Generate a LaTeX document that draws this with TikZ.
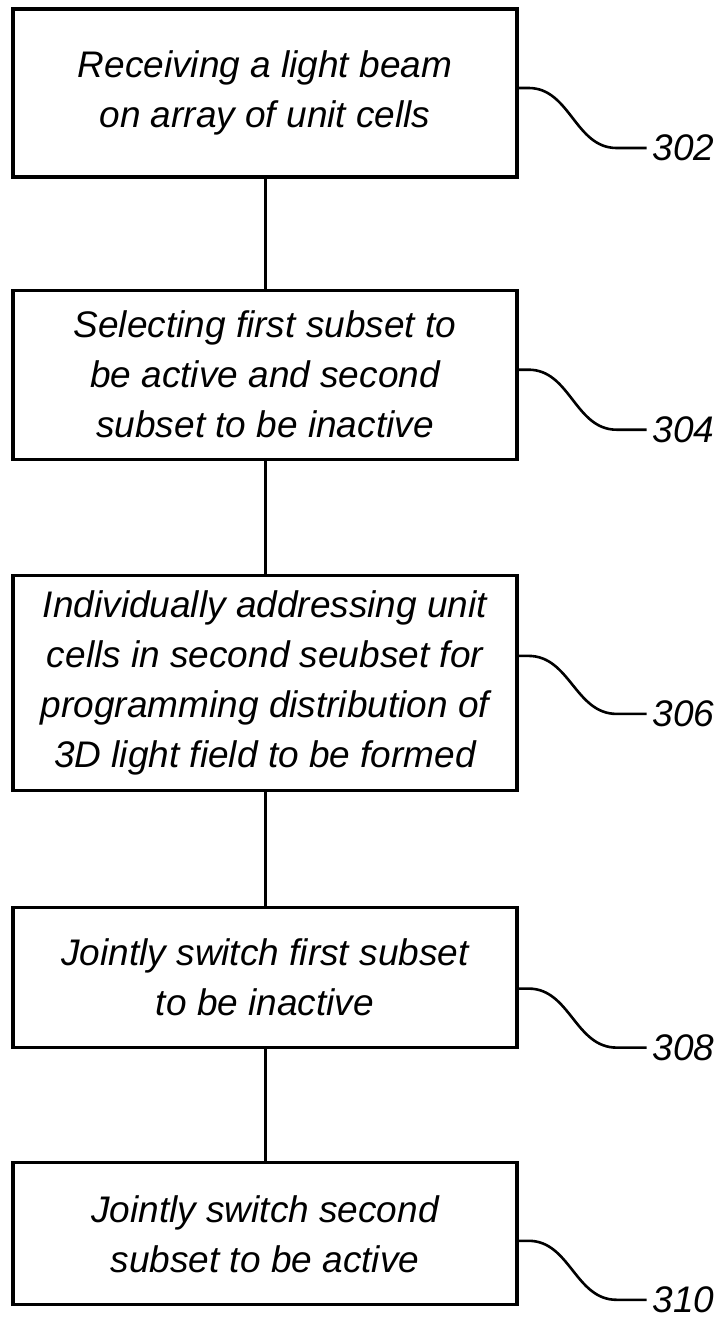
\documentclass[tikz,border=0pt]{standalone}
\usepackage{fontspec}
\setmainfont{Liberation Sans}
\usetikzlibrary{positioning}

\tikzset{
    stepbox/.style={draw, rectangle, line width=3.2pt, align=center, minimum width=504pt, inner sep=0pt, font=\fontsize{37}{50}\selectfont\itshape},
    reflabel/.style={anchor=west, inner xsep=6pt, inner ysep=0pt, font=\fontsize{37}{44}\selectfont\itshape},
    squiggle/.style={line width=2.6pt},
    flow/.style={line width=3pt},
}

\begin{document}
\begin{tikzpicture}[x=1pt,y=-1pt,node distance=0pt]
    \useasboundingbox (0,0) rectangle (722,1319);

    \node[stepbox, minimum height=168pt] (v1) at (265,93) {Receiving a light beam \\ on array of unit cells};
    \node[stepbox, minimum height=169pt] (v2) [below=110pt of v1] {Selecting first subset to \\ be active and second \\ subset to be inactive};
    \node[stepbox, minimum height=215pt] (v3) [below=113pt of v2] {Individually addressing unit \\ cells in second seubset for \\ programming distribution of \\ 3D light field to be formed};
    \node[stepbox, minimum height=140pt] (v4) [below=114pt of v3] {Jointly switch first subset \\ to be inactive};
    \node[stepbox, minimum height=142pt] (v5) [below=112pt of v4] {Jointly switch second \\ subset to be active};

    \draw[flow] (v1) -- (v2);
    \draw[flow] (v2) -- (v3);
    \draw[flow] (v3) -- (v4);
    \draw[flow] (v4) -- (v5);

    % reference numerals
    \coordinate[yshift=5pt] (A1) at (v1.east);
    \coordinate[yshift=5pt] (A2) at (v2.east);
    \coordinate[yshift=27pt] (A3) at (v3.east);
    \coordinate[yshift=-11pt] (A4) at (v4.east);
    \coordinate[yshift=-7pt] (A5) at (v5.east);

    \node[reflabel] (n302) at ([shift={(128pt,-60pt)}]A1) {302};
    \node[reflabel] (n304) at ([shift={(128pt,-60pt)}]A2) {304};
    \node[reflabel] (n306) at ([shift={(128pt,-58pt)}]A3) {306};
    \node[reflabel] (n308) at ([shift={(128pt,-59pt)}]A4) {308};
    \node[reflabel] (n310) at ([shift={(128pt,-59pt)}]A5) {310};

    \draw[squiggle] (A1) -- ++(10,0) to[out=0,in=180] ([xshift=-30pt]n302.west) -- (n302.west);
    \draw[squiggle] (A2) -- ++(10,0) to[out=0,in=180] ([xshift=-30pt]n304.west) -- (n304.west);
    \draw[squiggle] (A3) -- ++(10,0) to[out=0,in=180] ([xshift=-30pt]n306.west) -- (n306.west);
    \draw[squiggle] (A4) -- ++(10,0) to[out=0,in=180] ([xshift=-30pt]n308.west) -- (n308.west);
    \draw[squiggle] (A5) -- ++(10,0) to[out=0,in=180] ([xshift=-30pt]n310.west) -- (n310.west);

\end{tikzpicture}
\end{document}
